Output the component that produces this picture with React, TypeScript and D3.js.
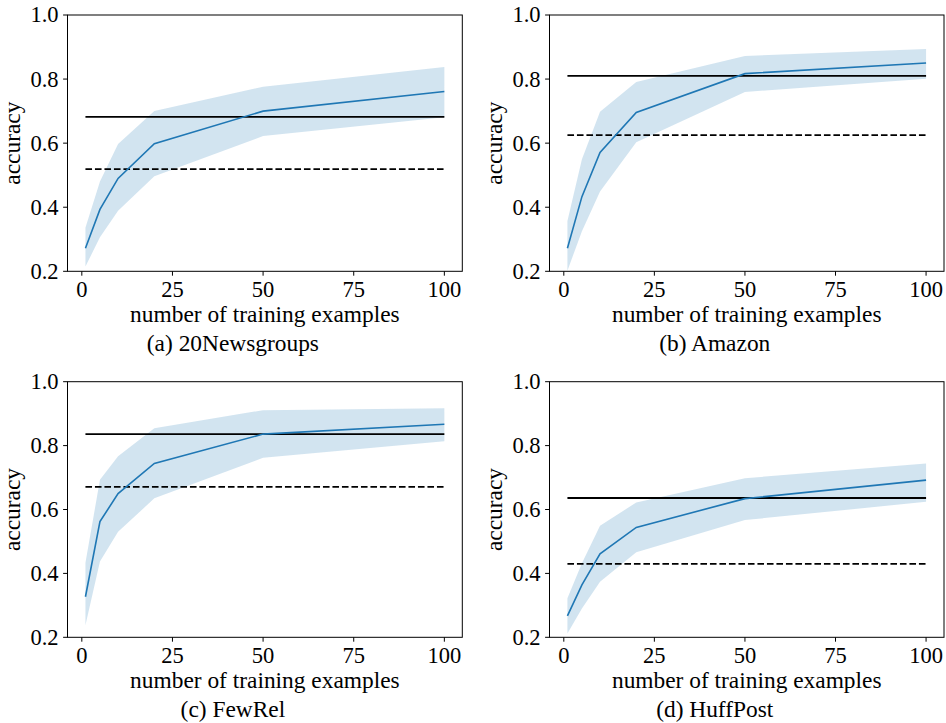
import React from "react";
import * as d3 from "d3";

const trainSizes = [1, 5, 10, 20, 50, 100];
const xTicks = [0, 25, 50, 75, 100];
const yTicks = [0.2, 0.4, 0.6, 0.8, 1.0];

const captions = ["(a) 20Newsgroups", "(b) Amazon", "(c) FewRel", "(d) HuffPost"];

const meanA = [0.272, 0.393, 0.49, 0.598, 0.7, 0.761];
const upperA = [0.336, 0.48, 0.597, 0.7, 0.776, 0.838];
const lowerA = [0.215, 0.306, 0.389, 0.497, 0.622, 0.681];

const meanB = [0.272, 0.433, 0.571, 0.696, 0.817, 0.85];
const upperB = [0.357, 0.55, 0.698, 0.791, 0.872, 0.894];
const lowerB = [0.202, 0.325, 0.449, 0.603, 0.76, 0.801];

const meanC = [0.327, 0.562, 0.65, 0.744, 0.836, 0.867];
const upperC = [0.433, 0.693, 0.767, 0.854, 0.911, 0.917];
const lowerC = [0.238, 0.437, 0.53, 0.635, 0.762, 0.814];

const meanD = [0.267, 0.364, 0.461, 0.544, 0.634, 0.692];
const upperD = [0.322, 0.432, 0.549, 0.622, 0.698, 0.744];
const lowerD = [0.212, 0.29, 0.374, 0.466, 0.567, 0.624];

const solidRefs = [0.682, 0.81, 0.836, 0.636];
const dashedRefs = [0.519, 0.625, 0.671, 0.43];

const means = [meanA, meanB, meanC, meanD];
const uppers = [upperA, upperB, upperC, upperD];
const lowers = [lowerA, lowerB, lowerC, lowerD];

const FONT = "'Liberation Serif', 'Times New Roman', serif";
const BLUE = "#1f77b4";

type Box = { left: number; right: number; top: number; bottom: number };

const boxes: Box[] = [
  { left: 67.5, right: 462.3, top: 15, bottom: 271.3 },
  { left: 549.5, right: 944, top: 15, bottom: 271.3 },
  { left: 67.5, right: 462.3, top: 381.7, bottom: 637.3 },
  { left: 549.5, right: 944, top: 381.7, bottom: 637.3 },
];

function Panel({ i }: { i: number }) {
  const b = boxes[i];
  const x = d3.scaleLinear().domain([1 - 99 * 0.05, 100 + 99 * 0.05]).range([b.left, b.right]);
  const y = d3.scaleLinear().domain([0.2, 1.0]).range([b.bottom, b.top]);
  const rows = trainSizes.map((t, k) => ({ t, m: means[i][k], u: uppers[i][k], l: lowers[i][k] }));
  const area = d3
    .area<any>()
    .x((d) => x(d.t))
    .y0((d) => y(d.l))
    .y1((d) => y(d.u));
  const line = d3
    .line<any>()
    .x((d) => x(d.t))
    .y((d) => y(d.m));
  const x0 = x(trainSizes[0]);
  const x1 = x(trainSizes[trainSizes.length - 1]);
  const cx = (b.left + b.right) / 2;
  const cy = (b.top + b.bottom) / 2;
  return (
    <g>
      <path d={area(rows) || ""} fill={BLUE} fillOpacity={0.2} stroke="none" />
      <line x1={x0} x2={x1} y1={y(solidRefs[i])} y2={y(solidRefs[i])} stroke="#000" strokeWidth={1.8} />
      <line
        x1={x0}
        x2={x1}
        y1={y(dashedRefs[i])}
        y2={y(dashedRefs[i])}
        stroke="#000"
        strokeWidth={1.8}
        strokeDasharray="6.6 2.9"
      />
      <path d={line(rows) || ""} fill="none" stroke={BLUE} strokeWidth={1.6} />
      <rect
        x={b.left}
        y={b.top}
        width={b.right - b.left}
        height={b.bottom - b.top}
        fill="none"
        stroke="#000"
        strokeWidth={1}
      />
      {xTicks.map((t) => (
        <g key={"x" + t}>
          <line x1={x(t)} x2={x(t)} y1={b.bottom} y2={b.bottom + 4.4} stroke="#000" strokeWidth={1} />
          <text x={x(t)} y={b.bottom + 25.3} textAnchor="middle" fontSize={22.5} fontFamily={FONT} fill="#000">
            {t}
          </text>
        </g>
      ))}
      {yTicks.map((t) => (
        <g key={"y" + t}>
          <line x1={b.left - 4.4} x2={b.left} y1={y(t)} y2={y(t)} stroke="#000" strokeWidth={1} />
          <text
            x={b.left - 9}
            y={y(t)}
            dy="0.33em"
            textAnchor="end"
            fontSize={22.5}
            fontFamily={FONT}
            fill="#000"
          >
            {t.toFixed(1)}
          </text>
        </g>
      ))}
      <text x={cx} y={b.bottom + 50.5} textAnchor="middle" fontSize={23.4} fontFamily={FONT} fill="#000">
        number of training examples
      </text>
      <text
        transform={`translate(${b.left - 47.5},${cy}) rotate(-90)`}
        textAnchor="middle"
        fontSize={23.4}
        fontFamily={FONT}
        fill="#000"
      >
        accuracy
      </text>
      <text x={cx - 32} y={b.bottom + 80} textAnchor="middle" fontSize={23.4} fontFamily={FONT} fill="#000">
        {captions[i]}
      </text>
    </g>
  );
}

export default function App() {
  return (
    <svg
      width={946}
      height={723}
      style={{ position: "absolute", left: 0, top: 0, background: "#fff" }}
    >
      <rect x={0} y={0} width={946} height={723} fill="#fff" />
      {[0, 1, 2, 3].map((i) => (
        <Panel key={i} i={i} />
      ))}
    </svg>
  );
}
